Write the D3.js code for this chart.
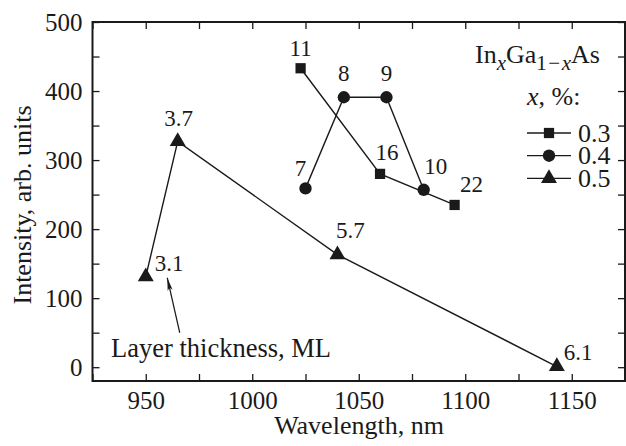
<!DOCTYPE html>
<html>
<head>
<meta charset="utf-8">
<script src="https://cdn.jsdelivr.net/npm/d3@7"></script>
<style>
  body { margin: 0; background: #fff; }
  svg { display: block; }
</style>
</head>
<body>
<svg></svg>
<script>
// x = 0.3 (squares)
var sqWave = [1022.7, 1060, 1095];
var sqInt = [433, 280, 235];
var sqLabels = ['11', '16', '22'];
// x = 0.4 (circles)
var ciWave = [1025, 1043, 1063, 1080.5];
var ciInt = [259, 391, 391, 257];
var ciLabels = ['7', '8', '9', '10'];
// x = 0.5 (triangles)
var trWave = [950, 965, 1040, 1143];
var trInt = [131, 327, 163, 1];
var trLabels = ['3.1', '3.7', '5.7', '6.1'];

var legendNames = ['0.3', '0.4', '0.5'];
var xTicks = [950, 1000, 1050, 1100, 1150];
var yTicks = [0, 100, 200, 300, 400, 500];

const W = 626, H = 446;
const pLeft = 92.5, pRight = 625, pTop = 22, pBottom = 381;
const ink = '#1a1a1a';
const serif = '"Liberation Serif", "Times New Roman", serif';

var svg = d3.select('svg').attr('width', W).attr('height', H)
            .attr('font-family', serif);

const x = d3.scaleLinear().domain([925, 1175]).range([pLeft, pRight]);
const y = d3.scaleLinear().domain([-20, 500]).range([pBottom, pTop]);

var xMinor = d3.range(925, 1176, 25);
var yMinor = d3.range(0, 501, 50);

function styleAxis(g) {
  g.attr('font-family', serif);
  g.select('.domain').remove();
  g.selectAll('.tick line').attr('stroke', ink).attr('stroke-width', 1.3);
  g.selectAll('text').attr('fill', ink).attr('font-size', 25);
}

svg.append('g').attr('transform', `translate(0,${pBottom})`)
   .call(d3.axisBottom(x).tickValues(xMinor).tickSize(-7).tickPadding(10)
     .tickFormat(d => xTicks.includes(d) ? d : ''))
   .call(styleAxis);
svg.append('g').attr('transform', `translate(0,${pTop})`)
   .call(d3.axisTop(x).tickValues(xMinor).tickSize(-7).tickFormat(''))
   .call(styleAxis);
svg.append('g').attr('transform', `translate(${pLeft},0)`)
   .call(d3.axisLeft(y).tickValues(yMinor).tickSize(-7).tickPadding(10)
     .tickFormat(d => yTicks.includes(d) ? d : ''))
   .call(styleAxis);
svg.append('g').attr('transform', `translate(${pRight},0)`)
   .call(d3.axisRight(y).tickValues(yMinor).tickSize(-7).tickFormat(''))
   .call(styleAxis);

// frame
svg.append('rect')
   .attr('x', pLeft).attr('y', pTop)
   .attr('width', pRight - pLeft).attr('height', pBottom - pTop)
   .attr('fill', 'none').attr('stroke', ink).attr('stroke-width', 2);

// axis titles
svg.append('text').attr('x', 359).attr('y', 434)
   .attr('text-anchor', 'middle').attr('font-size', 26).attr('fill', ink)
   .text('Wavelength, nm');
svg.append('text').attr('transform', 'translate(31,205) rotate(-90)')
   .attr('text-anchor', 'middle').attr('font-size', 26).attr('fill', ink)
   .text('Intensity, arb. units');

var series = [
  { wave: sqWave, val: sqInt, labels: sqLabels, shape: d3.symbolSquare, size: 105,
    off: [[0, -12, 'middle'], [7, -14, 'middle'], [17, -13, 'middle']] },
  { wave: ciWave, val: ciInt, labels: ciLabels, shape: d3.symbolCircle, size: 120,
    off: [[-5, -12, 'middle'], [0, -16, 'middle'], [0, -16, 'middle'], [12, -16, 'middle']] },
  { wave: trWave, val: trInt, labels: trLabels, shape: d3.symbolTriangle, size: 110,
    off: [[9, -6, 'start'], [1, -15, 'middle'], [13, -17, 'middle'], [7, -7, 'start']] }
];

var line = d3.line().x(d => x(d[0])).y(d => y(d[1]));

series.forEach(s => {
  var pts = s.wave.map((w, i) => [w, s.val[i]]);
  svg.append('path').datum(pts).attr('d', line)
     .attr('fill', 'none').attr('stroke', ink).attr('stroke-width', 1.4);
  svg.selectAll(null).data(pts).enter().append('path')
     .attr('transform', d => `translate(${x(d[0])},${y(d[1])})`)
     .attr('d', d3.symbol().type(s.shape).size(s.size))
     .attr('fill', ink);
  svg.selectAll(null).data(pts).enter().append('text')
     .attr('x', (d, i) => x(d[0]) + s.off[i][0])
     .attr('y', (d, i) => y(d[1]) + s.off[i][1])
     .attr('text-anchor', (d, i) => s.off[i][2])
     .attr('font-size', 23).attr('fill', ink)
     .text((d, i) => s.labels[i]);
});

// annotation
svg.append('defs').append('marker')
   .attr('id', 'arr').attr('viewBox', '0 0 13 6').attr('refX', 13).attr('refY', 3)
   .attr('markerWidth', 13).attr('markerHeight', 6).attr('markerUnits', 'userSpaceOnUse')
   .attr('orient', 'auto')
   .append('path').attr('d', 'M0,0.5 L13,3 L0,5.5 L3,3 Z').attr('fill', ink);
var ax = x(trWave[0]), ay = y(trInt[0]);
svg.append('line')
   .attr('x1', ax + 34).attr('y1', ay + 56)
   .attr('x2', ax + 21.5).attr('y2', ay + 1)
   .attr('stroke', ink).attr('stroke-width', 1.2).attr('marker-end', 'url(#arr)');
svg.append('text').attr('x', 111).attr('y', 357)
   .attr('font-size', 26.5).attr('fill', ink).text('Layer thickness, ML');

// legend
var lg = svg.append('g').attr('fill', ink).attr('font-size', 26);
var t1 = lg.append('text').attr('x', 475).attr('y', 63);
t1.append('tspan').text('In');
t1.append('tspan').attr('font-size', 21).attr('font-style', 'italic').attr('dy', 7).text('x');
t1.append('tspan').attr('dy', -7).text('Ga');
t1.append('tspan').attr('font-size', 21).attr('dy', 7).text('1');
t1.append('tspan').attr('font-size', 21).attr('dx', 1.5).text('−');
t1.append('tspan').attr('font-size', 21).attr('dx', 1.5).attr('font-style', 'italic').text('x');
t1.append('tspan').attr('dy', -7).text('As');
var t2 = lg.append('text').attr('x', 527).attr('y', 105);
t2.append('tspan').attr('font-style', 'italic').text('x');
t2.append('tspan').text(', %:');

var rows = lg.selectAll(null).data(series).enter().append('g')
   .attr('transform', (d, i) => `translate(0,${133 + i * 22.7})`);
rows.append('line').attr('x1', 527).attr('x2', 571)
   .attr('stroke', ink).attr('stroke-width', 1.3);
rows.append('path').attr('transform', 'translate(549,0)')
   .attr('d', d => d3.symbol().type(d.shape).size(d.size)());
rows.append('text').attr('x', 578).attr('y', 8.5).text((d, i) => legendNames[i]);
</script>
</body>
</html>
